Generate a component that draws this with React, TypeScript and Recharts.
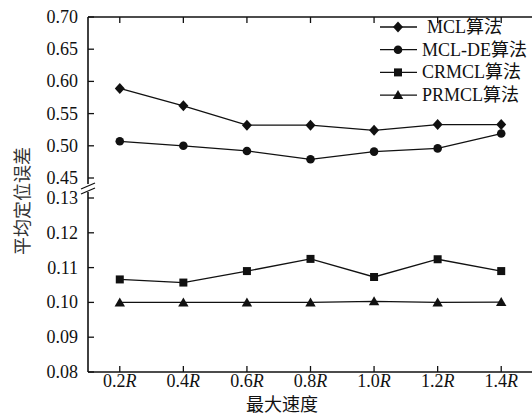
import { LineChart, Line, XAxis, YAxis } from 'recharts';

const speeds = [0.2, 0.4, 0.6, 0.8, 1.0, 1.2, 1.4];
const mcl = [0.589, 0.562, 0.532, 0.532, 0.524, 0.533, 0.533];
const mclDe = [0.507, 0.5, 0.492, 0.479, 0.491, 0.496, 0.519];
const crmcl = [0.1066, 0.1057, 0.109, 0.1125, 0.1073, 0.1124, 0.109];
const prmcl = [0.1, 0.1, 0.1, 0.1, 0.1003, 0.1, 0.1001];

const lowerTicks = [0.08, 0.09, 0.1, 0.11, 0.12, 0.13];
const upperTicks = [0.45, 0.5, 0.55, 0.6, 0.65, 0.7];

const seriesNames = ['MCL算法', 'MCL-DE算法', 'CRMCL算法', 'PRMCL算法'];
const markerKinds = ['diamond', 'circle', 'square', 'triangle'];

const FONT = '"Liberation Serif", "Times New Roman", "Noto Sans CJK SC", serif';
const INK = '#111';

// broken axis: lower band 0.08-0.13, gap, upper band 0.45-0.70
const LOW_UNIT = 34.8; // per 0.01
const GAP = 20;
const UP_UNIT = 32.2; // per 0.05
const toDisp = (v: number) =>
    v <= 0.2 ? ((v - 0.08) / 0.01) * LOW_UNIT : 5 * LOW_UNIT + GAP + ((v - 0.45) / 0.05) * UP_UNIT;
const Y_MAX = toDisp(0.7);
const BREAK = 5 * LOW_UNIT + GAP / 2;

const yTickLabels = new Map<number, string>();
[...lowerTicks, ...upperTicks].forEach((t) => yTickLabels.set(Math.round(toDisp(t) * 10), t.toFixed(2)));
const yTicks = [...lowerTicks, ...upperTicks].map(toDisp).concat([BREAK]);

const data = speeds.map((s, i) => ({
    speed: s,
    mcl: toDisp(mcl[i]),
    mclDe: toDisp(mclDe[i]),
    crmcl: toDisp(crmcl[i]),
    prmcl: toDisp(prmcl[i]),
}));

function Marker({ kind, cx, cy }: { kind: string; cx: number; cy: number }) {
    if (kind === 'diamond')
        return <polygon points={`${cx},${cy - 5.5} ${cx + 5},${cy} ${cx},${cy + 5.5} ${cx - 5},${cy}`} fill={INK} />;
    if (kind === 'circle') return <circle cx={cx} cy={cy} r={4.3} fill={INK} />;
    if (kind === 'square') return <rect x={cx - 4} y={cy - 4} width={8} height={8} fill={INK} />;
    return <polygon points={`${cx},${cy - 5} ${cx + 5.2},${cy + 4} ${cx - 5.2},${cy + 4}`} fill={INK} />;
}

const makeDot = (kind: string) => (p: any) => <Marker key={`${kind}-${p.index}`} kind={kind} cx={p.cx} cy={p.cy} />;

function BreakMark({ x, y }: { x: number; y: number }) {
    return (
        <g>
            <rect x={x - 2} y={y - 4} width={4} height={8} fill="#fff" />
            <line x1={x - 7} y1={y + 1} x2={x + 7} y2={y - 5} stroke={INK} strokeWidth={1.3} />
            <line x1={x - 7} y1={y + 6} x2={x + 7} y2={y} stroke={INK} strokeWidth={1.3} />
        </g>
    );
}

function LeftTick(props: any) {
    const { x, y, payload } = props;
    if (payload.value === BREAK) return <BreakMark x={x} y={y} />;
    const label = yTickLabels.get(Math.round(payload.value * 10));
    return (
        <g>
            <line x1={x} y1={y} x2={x + 6} y2={y} stroke={INK} strokeWidth={1.3} />
            <text x={x - 10} y={y + 6} textAnchor="end" fontSize={18} fontFamily={FONT} fill={INK}>
                {label}
            </text>
        </g>
    );
}

function RightTick(props: any) {
    const { x, y, payload } = props;
    if (payload.value === BREAK) return <BreakMark x={x} y={y} />;
    return <line x1={x} y1={y} x2={x - 6} y2={y} stroke={INK} strokeWidth={1.3} />;
}

function BottomTick(props: any) {
    const { x, y, payload } = props;
    return (
        <g>
            <line x1={x} y1={y} x2={x} y2={y - 6} stroke={INK} strokeWidth={1.3} />
            <text x={x} y={y + 15} textAnchor="middle" fontSize={18} fontFamily={FONT} fill={INK}>
                {payload.value.toFixed(1)}
                <tspan fontStyle="italic">R</tspan>
            </text>
        </g>
    );
}

function TopTick(props: any) {
    const { x, y } = props;
    return <line x1={x} y1={y} x2={x} y2={y + 6} stroke={INK} strokeWidth={1.3} />;
}

function LegendBox() {
    return (
        <svg width={160} height={95} style={{ position: 'absolute', left: 378, top: 14 }}>
            {seriesNames.map((name, i) => {
                const cy = 13 + i * 22.7;
                return (
                    <g key={name}>
                        <line x1={2} y1={cy} x2={39} y2={cy} stroke={INK} strokeWidth={1.3} />
                        <Marker kind={markerKinds[i]} cx={20} cy={cy} />
                        <text x={i === 0 ? 49 : 44} y={cy + 6} fontSize={18} fontFamily={FONT} fill={INK}>
                            {name}
                        </text>
                    </g>
                );
            })}
        </svg>
    );
}

export default function App() {
    return (
        <div style={{ position: 'absolute', left: 0, top: 0, width: 532, height: 414, overflow: 'hidden', background: '#fff' }}>
            <LineChart width={534} height={414} data={data} margin={{ top: 16, right: 0, bottom: 0, left: 0 }}>
                <XAxis
                    dataKey="speed"
                    type="number"
                    domain={[0.1, 1.5]}
                    ticks={speeds}
                    interval={0}
                    height={42}
                    tickLine={false}
                    tickSize={0}
                    tickMargin={0}
                    axisLine={{ stroke: INK, strokeWidth: 1.6 }}
                    tick={<BottomTick />}
                    label={{
                        content: () => (
                            <text x={282} y={411} textAnchor="middle" fontSize={18} fontFamily={FONT} fill={INK}>
                                最大速度
                            </text>
                        ),
                    }}
                />
                <XAxis
                    xAxisId="top"
                    orientation="top"
                    dataKey="speed"
                    type="number"
                    domain={[0.1, 1.5]}
                    ticks={speeds}
                    interval={0}
                    height={1}
                    tickLine={false}
                    tickSize={0}
                    tickMargin={0}
                    axisLine={{ stroke: INK, strokeWidth: 1.6 }}
                    tick={<TopTick />}
                />
                <YAxis
                    type="number"
                    domain={[0, Y_MAX]}
                    ticks={yTicks}
                    interval={0}
                    width={88}
                    tickLine={false}
                    tickSize={0}
                    tickMargin={0}
                    axisLine={{ stroke: INK, strokeWidth: 1.6 }}
                    tick={<LeftTick />}
                    label={{
                        content: () => (
                            <text
                                x={23}
                                y={201}
                                transform="rotate(-90 23 201)"
                                textAnchor="middle"
                                dominantBaseline="central"
                                fontSize={18}
                                fontFamily={FONT}
                                fill="#333"
                            >
                                平均定位误差
                            </text>
                        ),
                    }}
                />
                <YAxis
                    yAxisId="right"
                    orientation="right"
                    type="number"
                    domain={[0, Y_MAX]}
                    ticks={yTicks}
                    interval={0}
                    width={1}
                    tickLine={false}
                    tickSize={0}
                    tickMargin={0}
                    axisLine={{ stroke: INK, strokeWidth: 1.6 }}
                    tick={<RightTick />}
                />
                <Line dataKey="mcl" name={seriesNames[0]} stroke={INK} strokeWidth={1.3} dot={makeDot('diamond')} isAnimationActive={false} />
                <Line dataKey="mclDe" name={seriesNames[1]} stroke={INK} strokeWidth={1.3} dot={makeDot('circle')} isAnimationActive={false} />
                <Line dataKey="crmcl" name={seriesNames[2]} stroke={INK} strokeWidth={1.3} dot={makeDot('square')} isAnimationActive={false} />
                <Line dataKey="prmcl" name={seriesNames[3]} stroke={INK} strokeWidth={1.3} dot={makeDot('triangle')} isAnimationActive={false} />
            </LineChart>
            <LegendBox />
        </div>
    );
}
